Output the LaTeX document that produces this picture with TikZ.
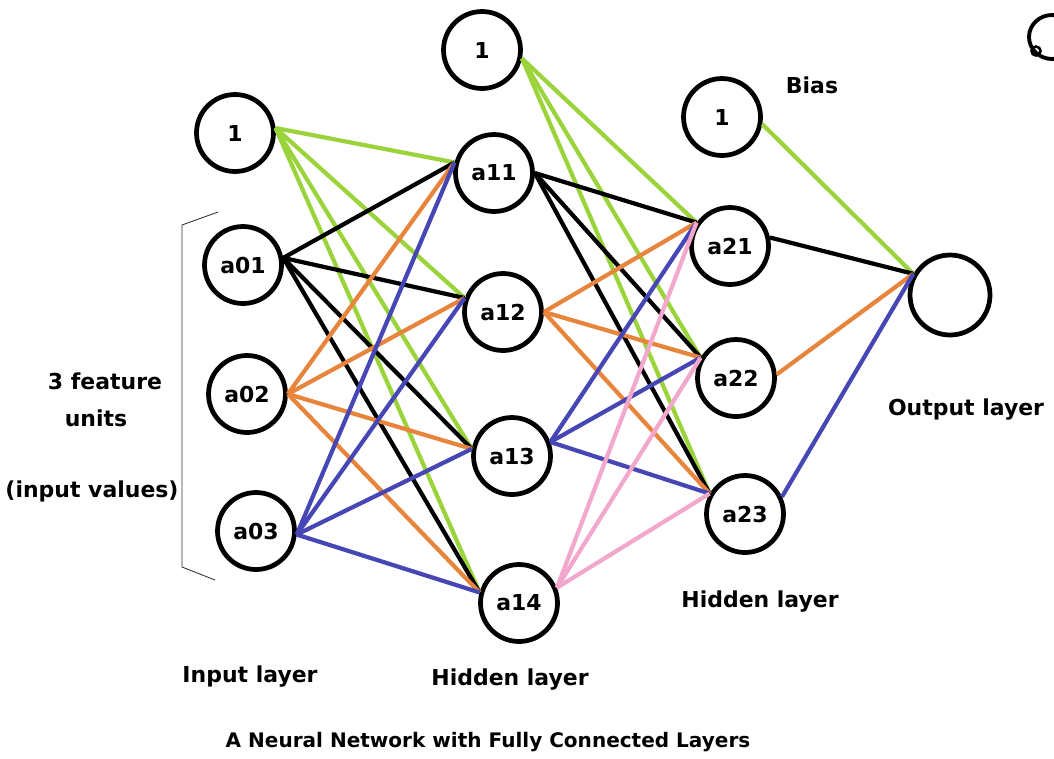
\documentclass[tikz,border=0pt]{standalone}
\usepackage{fontspec}
\setmainfont{DejaVu Sans}
\usepackage{tikz}

\definecolor{wgreen}{HTML}{9BD33A}
\definecolor{worange}{HTML}{E8853D}
\definecolor{wblue}{HTML}{4646B4}
\definecolor{wpink}{HTML}{F2A8CC}

\begin{document}
\begin{tikzpicture}[x=0.02cm, y=-0.02cm,
  every neuron/.style={circle, draw, line width=2.7pt, minimum size=1.54cm, inner sep=0pt,
    font=\bfseries\fontsize{12.5}{15}\selectfont},
  link/.style={line width=2.4pt},
  layer text/.style={font=\bfseries\fontsize{12.5}{15}\selectfont}]

\useasboundingbox (0,0) rectangle (1054,758);

\foreach \j/\m/\px/\py in {1/0/235/133, a01/1/243/265, a02/2/247/394, a03/3/256/531}
  \node [every neuron] (input-\m) at (\px,\py) {\j};

\foreach \j/\m/\px/\py in {1/0/482/50, a11/1/494/173, a12/2/503/312, a13/3/512/456, a14/4/519/603}
  \node [every neuron] (hidden1-\m) at (\px,\py) {\j};

\foreach \j/\m/\px/\py in {1/0/722/117, a21/1/730/246, a22/2/736/378, a23/3/745/514}
  \node [every neuron] (hidden2-\m) at (\px,\py) {\j};

\node [every neuron, minimum size=1.6cm] (output-1) at (950,295) {};

\foreach \i/\o/\c in {0/7/wgreen, 1/10/black, 2/0/worange, 3/-5/wblue}
  \foreach \j/\a in {1/165, 2/160, 3/170, 4/165}
    \draw [link, \c] (input-\i.\o) -- (hidden1-\j.\a);

\foreach \i/\o/\c in {0/-12/wgreen, 1/0/black, 2/0/worange, 3/20/wblue, 4/22/wpink}
  \foreach \j/\a in {1/145, 2/150, 3/150}
    \draw [link, \c] (hidden1-\i.\o) -- (hidden2-\j.\a);

\foreach \i/\o/\c in {0/-10/wgreen, 1/12/black, 2/5/worange, 3/25/wblue}
  \draw [link, \c] (hidden2-\i.\o) -- (output-1.150);

% bracket round the input units
\draw [line width=0.5pt, black!80] (218,212) -- (182,225) -- (182,567) -- (215,580);

\node [layer text] (feature-1) at (105,381) {3 feature};
\node [layer text] (feature-2) at (96,418) {units};
\node [layer text] (feature-3) at (92,491) {(input values)};

\node [layer text] (bias-label) at (812,85) {Bias};
\node [layer text] (input-label) at (250,677) {Input layer};
\node [layer text] (hidden1-label) at (510,680) {Hidden layer};
\node [layer text] (hidden2-label) at (760,602) {Hidden layer};
\node [layer text] (output-label) at (966,410) {Output layer};

\node [font=\bfseries\fontsize{11.4}{14}\selectfont] (title) at (488,742)
  {A Neural Network with Fully Connected Layers};

% cut-off mark in the top right corner
\begin{scope}
  \clip (0,0) rectangle (1054,758);
  \draw [line width=2.2pt] (1052,37) ellipse (0.46cm and 0.44cm);
  \draw [line width=1.5pt] (1036,51) circle (0.09cm);
\end{scope}
\end{tikzpicture}
\end{document}
